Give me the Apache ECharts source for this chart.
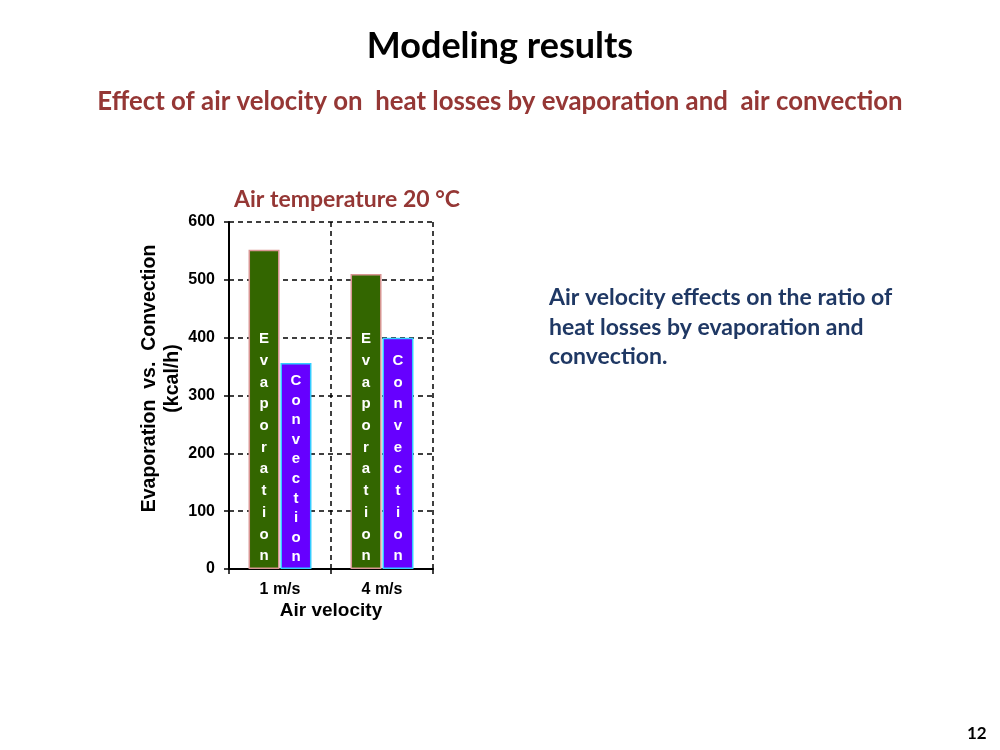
<!DOCTYPE html>
<html><head><meta charset="utf-8">
<script src="https://cdn.jsdelivr.net/npm/echarts@6/dist/echarts.min.js"></script>
<style>html,body{margin:0;padding:0;background:#fff}#c{width:1000px;height:750px}</style>
</head><body><div id="c"></div>
<script>
const categories = ['1 m/s', '4 m/s'];
const evaporation = [552, 510];
const convection = [356, 400];
const yTicks = [0, 100, 200, 300, 400, 500, 600];

const evapLineHeights = [21.7, 21.7];
const convLineHeights = [19.6, 21.7];

const chart = echarts.init(document.getElementById('c'));
const vertical = s => s.split('').join('\n');
const AR = 'Arial';
const labelBase = {
  show: true, position: 'insideBottom', distance: 2, color: '#fff',
  fontFamily: AR, fontWeight: 'bold', fontSize: 15
};
chart.setOption({
  animation: false,
  backgroundColor: '#fff',
  title: [
    { text: 'Modeling results', left: 'center', top: 23,
      textStyle: { fontFamily: 'Lato', fontWeight: 'bold', fontSize: 36, color: '#000' } },
    { text: 'Effect of air velocity on  heat losses by evaporation and  air convection', left: 'center', top: 84,
      textStyle: { fontFamily: 'Lato', fontWeight: 'bold', fontSize: 25.8, color: '#953735' } },
    { text: 'Air temperature 20 °C', left: 342, textAlign: 'center', top: 183,
      textStyle: { fontFamily: 'Lato', fontWeight: 'bold', fontSize: 23, color: '#953735' } },
    { text: 'Air velocity effects on the ratio of\nheat losses by evaporation and\nconvection.', left: 544, top: 278,
      textStyle: { fontFamily: 'Lato', fontWeight: 'bold', fontSize: 23, color: '#1F3864', lineHeight: 29.5 } },
    { text: '12', left: 962, top: 720,
      textStyle: { fontFamily: 'Lato', fontWeight: 'bold', fontSize: 17, color: '#000' } }
  ],
  grid: { left: 229, right: 567, top: 222, bottom: 181 },
  xAxis: {
    type: 'category', data: categories,
    name: 'Air velocity', nameLocation: 'middle', nameGap: 32,
    nameTextStyle: { fontFamily: AR, fontWeight: 'bold', fontSize: 19, color: '#000' },
    axisLine: { lineStyle: { color: '#000', width: 2 } },
    axisTick: { show: true, length: 5, lineStyle: { color: '#000', width: 1.5 } },
    axisLabel: { fontFamily: AR, fontWeight: 'bold', fontSize: 16, color: '#000', margin: 13 },
    splitLine: { show: true, lineStyle: { color: '#000', type: [5, 4], width: 1.5 } }
  },
  yAxis: {
    type: 'value', min: 0, max: 600, interval: 100,
    name: 'Evaporation  vs.  Convection\n(kcal/h)', nameLocation: 'middle', nameGap: 44,
    nameTextStyle: { fontFamily: AR, fontWeight: 'bold', fontSize: 19.5, color: '#000', lineHeight: 23,
      padding: [0, 0, 0, 34] },
    axisLine: { show: true, lineStyle: { color: '#000', width: 2 } },
    axisTick: { show: true, length: 5, lineStyle: { color: '#000', width: 1.5 } },
    axisLabel: { fontFamily: AR, fontWeight: 'bold', fontSize: 16, color: '#000', margin: 14,
      formatter: v => yTicks.includes(v) ? String(v) : '' },
    splitLine: { show: true, lineStyle: { color: '#000', type: [5, 4], width: 1.5 } }
  },
  series: [
    { name: 'Evaporation', type: 'bar', barWidth: 31, barGap: '3%',
      itemStyle: { color: '#336600', borderColor: '#D99694', borderWidth: 1.5 },
      data: evaporation.map((v, i) => ({ value: v,
        label: Object.assign({}, labelBase, { lineHeight: evapLineHeights[i], formatter: p => vertical(p.seriesName) }) })) },
    { name: 'Convection', type: 'bar', barWidth: 31,
      itemStyle: { color: '#6600FF', borderColor: '#33CCFF', borderWidth: 1.5 },
      data: convection.map((v, i) => ({ value: v,
        label: Object.assign({}, labelBase, { lineHeight: convLineHeights[i], formatter: p => vertical(p.seriesName) }) })) }
  ]
});
</script></body></html>
